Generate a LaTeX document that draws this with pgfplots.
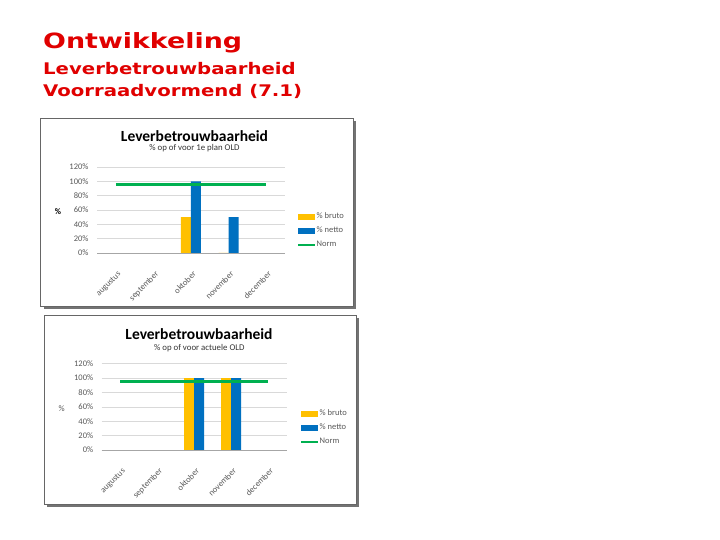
\documentclass[border=0pt]{standalone}
\usepackage{pgfplots}
\pgfplotsset{compat=1.18}
\usepackage{fontspec}
\usepackage{graphicx}
\setmainfont{Carlito}
\newfontfamily\verd{DejaVu Sans}

\definecolor{titlered}{HTML}{E00000}
\definecolor{yel}{HTML}{FFC000}
\definecolor{blu}{HTML}{0070C0}
\definecolor{grn}{HTML}{00B050}
\definecolor{gridgray}{HTML}{D9D9D9}
\definecolor{axisgray}{HTML}{A6A6A6}
\definecolor{tickgray}{HTML}{595959}

\pgfplotsset{
  lbchart/.style={
    scale only axis,
    xmin=-0.5, xmax=4.5, ymin=0, ymax=120,
    xtick={0,...,4},
    xticklabels={augustus,september,oktober,november,december},
    ytick={0,20,...,120},
    yticklabel={\pgfmathprintnumber{\tick}\%},
    ymajorgrids,
    grid style={draw=gridgray, line width=0.6pt},
    axis line style={draw=none},
    major tick length=0pt,
    tick label style={font=\fontsize{8.5}{9}\selectfont, text=tickgray},
    yticklabel style={xshift=-5pt},
    /pgf/number format/assume math mode=true,
    xticklabel style={rotate=45, anchor=north east, yshift=-10pt, xshift=-8pt, font=\fontsize{8.5}{9}\selectfont},
    extra y ticks={0}, extra y tick labels={},
    extra y tick style={grid style={draw=axisgray, line width=0.6pt}},
    legend cell align=left,
    legend style={draw=none, fill=none, inner sep=0pt, anchor=west,
      font=\fontsize{8.5}{9}\selectfont, text=tickgray, row sep=5pt,
      nodes={inner sep=0.5pt, text height=6pt, text depth=2pt}},
  },
  brutobar/.style={ybar, bar width=10pt, bar shift=-5pt, fill=yel, draw=none,
    legend image code/.code={\fill[yel] (0pt,-3pt) rectangle (17pt,3pt);}},
  nettobar/.style={ybar, bar width=10pt, bar shift=5pt, fill=blu, draw=none,
    legend image code/.code={\fill[blu] (0pt,-3pt) rectangle (17pt,3pt);}},
  normline/.style={sharp plot, no marks, draw=grn, line width=3pt,
    legend image code/.code={\draw[grn, line width=2pt] (0pt,0pt) -- (17pt,0pt);}},
}

\begin{document}
\begin{tikzpicture}[x=1pt,y=1pt]
\useasboundingbox (0,0) rectangle (720,540);
\fill[white] (0,0) rectangle (720,540);

% slide heading
\node[anchor=base west, inner sep=0pt, text=titlered] at (43,491.7)
  {\scalebox{1.28}[1]{\verd\bfseries\fontsize{21}{25}\selectfont Ontwikkeling}};
\node[anchor=base west, inner sep=0pt, text=titlered] at (43,465)
  {\scalebox{1.23}[1]{\verd\bfseries\fontsize{16}{19}\selectfont Leverbetrouwbaarheid}};
\node[anchor=base west, inner sep=0pt, text=titlered] at (43,443.3)
  {\scalebox{1.23}[1]{\verd\bfseries\fontsize{16}{19}\selectfont Voorraadvormend (7.1)}};

% chart 1 frame
\fill[black!55] (43.7,231) rectangle (356,419);
\filldraw[fill=white, draw=black!60, line width=0.8pt] (40.7,234) rectangle (353,422);
\node at (194.5,404.3) {\bfseries\fontsize{15.5}{17}\selectfont Leverbetrouwbaarheid};
\node[text=black!80] at (194.5,391.7) {\fontsize{8.8}{10}\selectfont \% op of voor 1e plan OLD};
\node at (58,328.3) {\bfseries\fontsize{8.5}{9}\selectfont \%};

\begin{axis}[lbchart, at={(97pt,287pt)}, anchor=south west,
  width=188pt, height=86pt,
  legend style={at={(1.064,0.256)}}]
  \addplot[brutobar] coordinates {(2,50) (3,0)};
  \addlegendentry{\% bruto}
  \addplot[nettobar] coordinates {(2,100) (3,50)};
  \addlegendentry{\% netto}
  \addplot[normline] coordinates {(0,95) (1,95) (2,95) (3,95) (4,95)};
  \addlegendentry{Norm}
\end{axis}

% chart 2 frame
\fill[black!55] (47,33) rectangle (359,222);
\filldraw[fill=white, draw=black!60, line width=0.8pt] (44,36) rectangle (356,225);
\node at (199,206.3) {\bfseries\fontsize{15.5}{17}\selectfont Leverbetrouwbaarheid};
\node[text=black!80] at (199.3,192.3) {\fontsize{8.8}{10}\selectfont \% op of voor actuele OLD};
\node[text=tickgray] at (61.7,131.3) {\fontsize{8.5}{9}\selectfont \%};

\begin{axis}[lbchart, at={(101.7pt,90pt)}, anchor=south west,
  width=185pt, height=86.3pt,
  legend style={at={(1.072,0.255)}}]
  \addplot[brutobar] coordinates {(2,100) (3,100)};
  \addlegendentry{\% bruto}
  \addplot[nettobar] coordinates {(2,100) (3,100)};
  \addlegendentry{\% netto}
  \addplot[normline] coordinates {(0,95) (1,95) (2,95) (3,95) (4,95)};
  \addlegendentry{Norm}
\end{axis}
\end{tikzpicture}
\end{document}
